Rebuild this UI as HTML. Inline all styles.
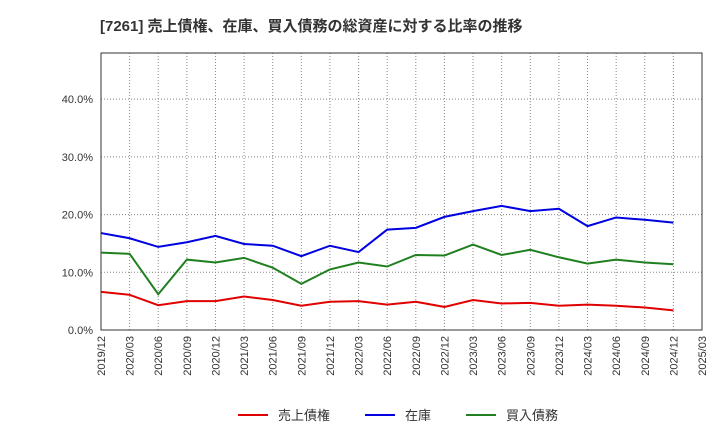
<!DOCTYPE html>
<html><head><meta charset="utf-8"><style>
body{margin:0;background:#fff;font-family:"Liberation Sans","Noto Sans CJK JP",sans-serif;}
</style></head><body>
<svg id="c" width="720" height="440" xmlns="http://www.w3.org/2000/svg" font-family="Liberation Sans, Noto Sans CJK JP, sans-serif">
<text x="100" y="31" font-size="15" font-weight="bold" fill="#333">[7261]  売上債権、在庫、買入債務の総資産に対する比率の推移</text>
</svg>
<script>
const categories=["2019/12","2020/03","2020/06","2020/09","2020/12","2021/03","2021/06","2021/09","2021/12","2022/03","2022/06","2022/09","2022/12","2023/03","2023/06","2023/09","2023/12","2024/03","2024/06","2024/09","2024/12","2025/03"];
const receivables=[6.6,6.1,4.3,5.0,5.0,5.8,5.2,4.2,4.9,5.0,4.4,4.9,4.0,5.2,4.6,4.7,4.2,4.4,4.2,3.9,3.4];
const inventory=[16.8,15.9,14.4,15.2,16.3,14.9,14.6,12.8,14.6,13.5,17.4,17.7,19.6,20.6,21.5,20.6,21.0,18.0,19.5,19.1,18.6];
const payables=[13.4,13.2,6.2,12.2,11.7,12.5,10.8,8.0,10.5,11.7,11.0,13.0,12.9,14.8,13.0,13.9,12.6,11.5,12.2,11.7,11.4];
const yTicks=[0,10,20,30,40];
const yTickLabels=["0.0%","10.0%","20.0%","30.0%","40.0%"];
const svg=document.getElementById('c');const NS="http://www.w3.org/2000/svg";
const L=101,R=702,T=53,B=330,yMax=48;
const x=i=>L+i*(R-L)/(categories.length-1);
const y=v=>B-v/yMax*(B-T);
function mk(t,a,p){const e=document.createElementNS(NS,t);for(const k in a)e.setAttribute(k,a[k]);(p||svg).appendChild(e);return e;}
let e=mk('rect',{x:L,y:T,width:R-L,height:B-T,fill:'#fff',stroke:'#333','stroke-width':1});


categories.forEach((c,i)=>{
 const g=mk('line',{x1:x(i),x2:x(i),y1:T,y2:B,stroke:'#888','stroke-dasharray':'1,2','stroke-width':1});
 
 
 const tx=x(i)+4,ty=B+6;
 const t=mk('text',{x:tx,y:ty,'font-size':11,fill:'#333','text-anchor':'end',transform:`rotate(-90 ${tx} ${ty})`});
 t.textContent=c;
 
 
});
yTicks.forEach((v,i)=>{
 const g=mk('line',{x1:L,x2:R,y1:y(v),y2:y(v),stroke:'#888','stroke-dasharray':'1,2','stroke-width':1});
 
 
 const t=mk('text',{x:L-8,y:y(v)+4,'font-size':11,fill:'#333','text-anchor':'end'});
 t.textContent=yTickLabels[i];
 
 
});
mk('rect',{x:L,y:T,width:R-L,height:B-T,fill:'none',stroke:'#333','stroke-width':1});
function series(d,col,name){
 const p=mk('polyline',{points:d.map((v,i)=>x(i)+','+y(v)).join(' '),fill:'none',stroke:col,'stroke-width':2});
 
 
}
series(receivables,'#e00000','receivables-line');
series(inventory,'#0000e0','inventory-line');
series(payables,'#208020','payables-line');
const leg=[["売上債権","#e00000",238],["在庫","#0000e0",365],["買入債務","#208020",466]];
leg.forEach(([n,c,lx])=>{
 const g=mk('g',{});
 
 
 mk('line',{x1:lx,x2:lx+30,y1:415,y2:415,stroke:c,'stroke-width':2},g);
 const t=mk('text',{x:lx+40,y:420,'font-size':13,fill:'#333'},g);t.textContent=n;
});
</script>
</body></html>
